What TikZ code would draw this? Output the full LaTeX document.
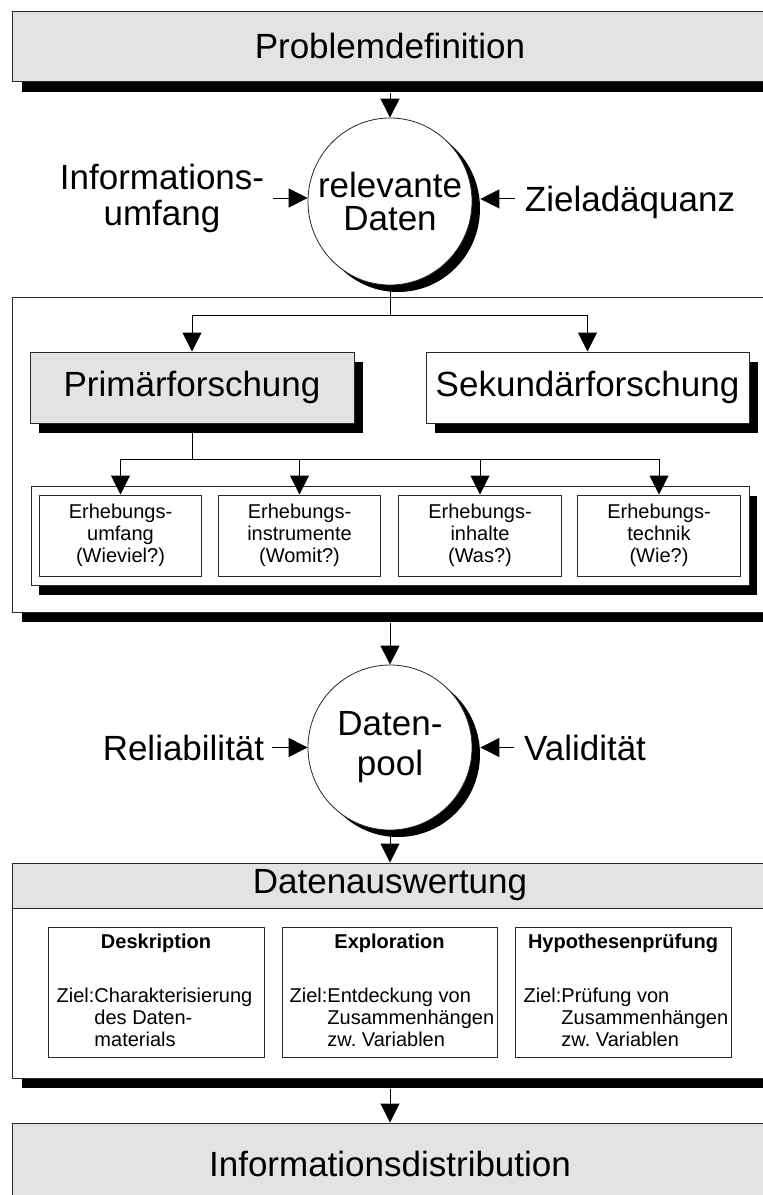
\documentclass[tikz,border=0pt]{standalone}
\usepackage{fontspec}
\setmainfont{Liberation Sans}
\usetikzlibrary{arrows.meta,shapes.geometric,shadows}
\definecolor{boxgray}{RGB}{227,227,227}
\definecolor{edge}{RGB}{40,40,40}
\tikzset{
  big/.style={font=\fontsize{35}{36}\selectfont},
  small/.style={font=\fontsize{20}{22}\selectfont},
  shad/.style 2 args={drop shadow={shadow xshift=#1, shadow yshift=-#2, fill=black, draw=none, opacity=1}},
  box/.style={draw=edge, line width=1pt, rectangle, inner sep=0pt},
  oval/.style={ellipse, draw=edge, line width=0.8pt, fill=white, inner sep=-40pt, align=center, shad={8pt}{7pt}},
  txt/.style={inner sep=0pt, align=center, big},
  arr/.style={draw=black, line width=1pt, -{Triangle[length=19pt,width=19pt]}},
  conn/.style={draw=black, line width=1pt},
  ititle/.style={inner sep=0pt, anchor=base, font=\fontsize{20}{22}\selectfont\bfseries},
  ibody/.style={inner sep=0pt, anchor=base west, small},
}
\begin{document}
\begin{tikzpicture}[x=1pt,y=-1pt]
\useasboundingbox (0,0) rectangle (763,1195);
\clip (0,0) rectangle (763,1195);

% top box
\node[box, fill=boxgray, shad={10pt}{11pt}, minimum width=756pt, minimum height=70pt, big] (prob) at (390,46) {Problemdefinition};

% relevante Daten
\node[oval, minimum width=164pt, minimum height=167pt, font=\fontsize{35}{33}\selectfont] (rel) at (390,201.5) {relevante\\Daten};
\node[txt] (infu) at (162,198) {Informations-\\umfang};
\node[txt, anchor=base] (ziel) at (630,211) {Zieladäquanz};
\draw[arr] ([yshift=-11pt]prob.south) -- (rel.north);
\coordinate (a1) at ([xshift=9pt]infu.east);
\draw[arr] (a1) -- (a1 -| rel.west);
\coordinate (a2) at ([xshift=-10pt,yshift=3pt]ziel.west);
\coordinate (a2e) at ([xshift=8pt]rel.east);
\draw[arr] (a2) -- (a2 -| a2e);

% frame with research boxes
\node[box, fill=white, shad={10pt}{10pt}, minimum width=756pt, minimum height=315pt] (frame) at (390,454.5) {};
\node[box, fill=boxgray, shad={9pt}{10pt}, minimum width=324pt, minimum height=71pt, big] (prim) at (192,387.5) {Primärforschung};
\node[box, fill=white, shad={9pt}{10pt}, minimum width=323pt, minimum height=71pt, big] (sek) at (587.5,387.5) {Sekundärforschung};
\node[box, fill=white, shad={8pt}{10pt}, minimum width=718pt, minimum height=99pt] (cont) at (390,535.5) {};
\node[box, fill=white, small, align=center, minimum width=162.5pt, minimum height=81pt] (e1) at (120.5,535.5) {Erhebungs-\\umfang\\(Wieviel?)};
\node[box, fill=white, small, align=center, minimum width=162.5pt, minimum height=81pt] (e2) at (299.5,535.5) {Erhebungs-\\instrumente\\(Womit?)};
\node[box, fill=white, small, align=center, minimum width=162.5pt, minimum height=81pt] (e3) at (480,535.5) {Erhebungs-\\inhalte\\(Was?)};
\node[box, fill=white, small, align=center, minimum width=162.5pt, minimum height=81pt] (e4) at (659,535.5) {Erhebungs-\\technik\\(Wie?)};

\coordinate (b1) at (390,315);
\draw[conn] (rel.south) -- (b1);
\draw[arr] (b1) -| (prim.north);
\draw[arr] (b1) -| (sek.north);
\coordinate (b2) at (192,459);
\draw[conn] (prim.south) -- (b2);
\draw[arr] (b2) -| (e1.north);
\draw[arr] (b2) -| (e2.north);
\draw[arr] (b2) -| (e3.north);
\draw[arr] (b2) -| (e4.north);

% Datenpool
\node[oval, minimum width=164pt, minimum height=165pt, font=\fontsize{35}{40}\selectfont] (pool) at (390,747.5) {Daten-\\pool};
\node[txt, anchor=base] (reli) at (183.5,760) {Reliabilität};
\node[txt, anchor=base] (vali) at (585,760) {Validität};
\draw[arr] ([yshift=-10pt]frame.south) -- (pool.north);
\coordinate (r1) at ([xshift=8pt]reli.east);
\draw[arr] (r1) -- (r1 -| pool.west);
\coordinate (v1) at ([xshift=-10pt]vali.west);
\coordinate (v1e) at ([xshift=8pt]pool.east);
\draw[arr] (v1) -- (v1 -| v1e);

% Datenauswertung
\node[box, fill=white, shad={10pt}{10pt}, minimum width=756pt, minimum height=215pt] (auswert) at (390,970.5) {};
\node[box, fill=boxgray, minimum width=756pt, minimum height=45pt, big] (auswhead) at (390,885.5) {Datenauswertung};
\draw[arr] (pool.south) -- (auswhead.north);

\node[box, fill=white, minimum width=216pt, minimum height=130pt] (d1) at (156,992) {};
\node[box, fill=white, minimum width=215pt, minimum height=130pt] (d2) at (389.5,992) {};
\node[box, fill=white, minimum width=216pt, minimum height=130pt] (d3) at (623,992) {};
\node[ititle] (d1t) at ([yshift=-22pt]d1.north) {Deskription};
\node[ititle] (d2t) at ([yshift=-22pt]d2.north) {Exploration};
\node[ititle] (d3t) at ([yshift=-22pt]d3.north) {Hypothesenprüfung};
\node[ibody] (d1b) at ([xshift=9pt,yshift=-76pt]d1.north west) {\begin{tabular}[t]{@{}l@{}l@{}}Ziel:&Charakterisierung\\&des Daten-\\&materials\end{tabular}};
\node[ibody] (d2b) at ([xshift=8pt,yshift=-76pt]d2.north west) {\begin{tabular}[t]{@{}l@{}l@{}}Ziel:&Entdeckung von\\&Zusammenhängen\\&zw.\ Variablen\end{tabular}};
\node[ibody] (d3b) at ([xshift=9pt,yshift=-76pt]d3.north west) {\begin{tabular}[t]{@{}l@{}l@{}}Ziel:&Prüfung von\\&Zusammenhängen\\&zw.\ Variablen\end{tabular}};

% bottom box
\node[box, fill=boxgray, minimum width=756pt, minimum height=82pt, big] (info) at (390,1164) {Informationsdistribution};
\draw[arr] ([yshift=-10pt]auswert.south) -- (info.north);
\end{tikzpicture}
\end{document}
